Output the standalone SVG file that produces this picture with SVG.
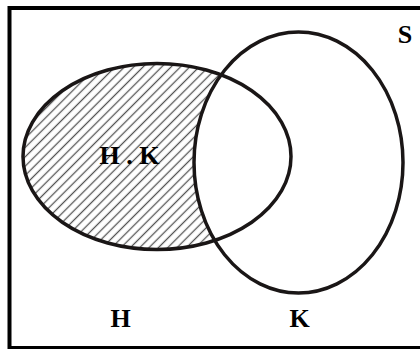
<svg xmlns="http://www.w3.org/2000/svg" width="420" height="349" viewBox="0 0 420 349">
<style>
.lbl{font-family:"Liberation Serif","Times New Roman",serif;font-weight:bold;font-size:26px;fill:#000;text-anchor:middle}
.set{fill:none;stroke:#1a1616;stroke-width:3.5}
</style>
<defs>
<pattern id="hatch" patternUnits="userSpaceOnUse" width="6.6" height="6.6" patternTransform="rotate(-45)">
<line x1="0" y1="3.3" x2="6.6" y2="3.3" stroke="#555" stroke-width="1.3"/>
</pattern>
</defs>
<rect x="0" y="0" width="420" height="349" fill="#fff"/>
<g id="S">
<rect x="9.5" y="8" width="420" height="340" fill="none" stroke="#000" stroke-width="4"/>
<text class="lbl" x="405" y="43">S</text>
</g>
<g id="H">
<ellipse cx="157" cy="156.5" rx="134" ry="93" fill="url(#hatch)"/>
</g>
<g id="K">
<ellipse cx="298.5" cy="162.5" rx="104.5" ry="130.5" fill="#fff"/>
</g>
<g id="outlines">
<ellipse class="set" cx="157" cy="156.5" rx="134" ry="93"/>
<ellipse class="set" cx="298.5" cy="162.5" rx="104.5" ry="130.5"/>
</g>
<g id="labels">
<text class="lbl" x="129.5" y="164">H . K</text>
<text class="lbl" x="120.5" y="327">H</text>
<text class="lbl" x="299.5" y="327">K</text>
</g>
</svg>
